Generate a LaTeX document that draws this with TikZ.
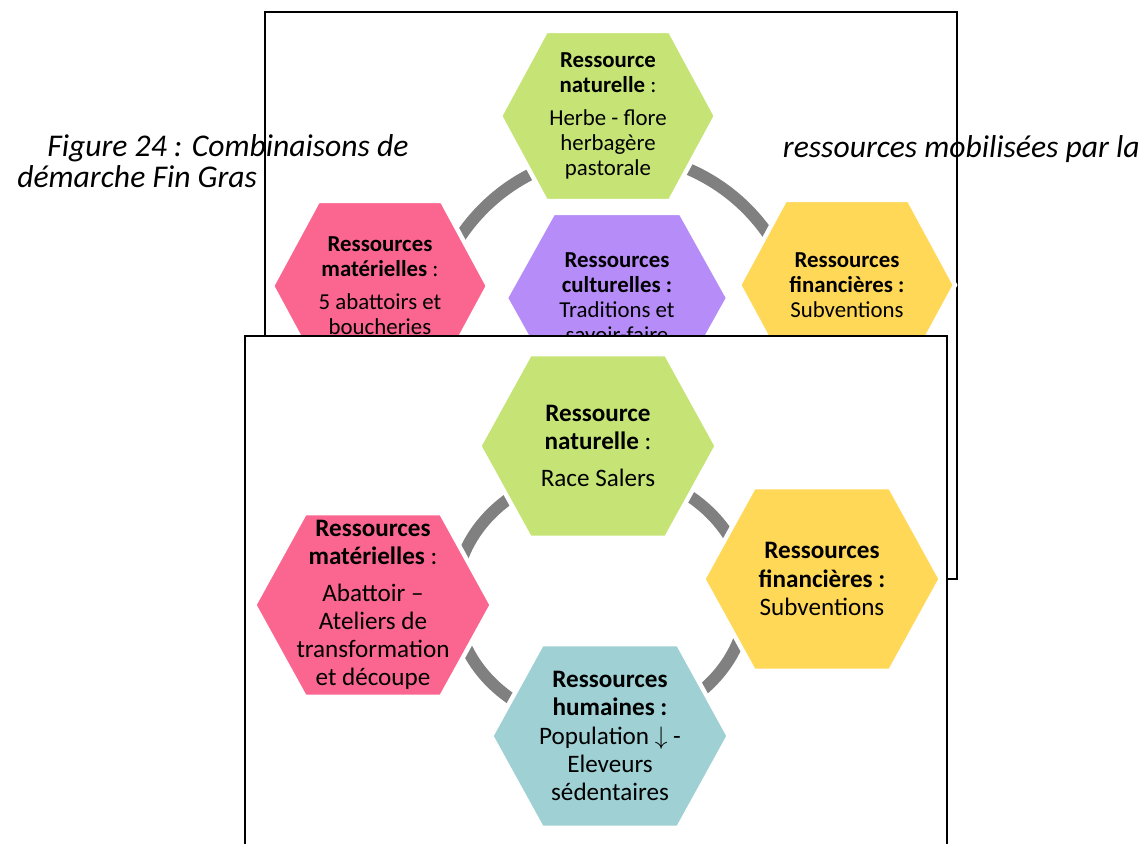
\documentclass[tikz,border=0pt]{standalone}
\usepackage{fontspec}
\setmainfont{Carlito}
\usepackage{tikz}
\usetikzlibrary{calc}

\definecolor{natgreen}{RGB}{197,228,117}
\definecolor{matpink}{RGB}{250,102,143}
\definecolor{culpurple}{RGB}{181,140,248}
\definecolor{finyellow}{RGB}{255,216,88}
\definecolor{humcyan}{RGB}{158,208,212}
\definecolor{ringgray}{RGB}{128,128,128}

% hexagon with its text: name, centre, colour, size, text
\newcommand{\hexcell}[5]{%
  \filldraw[fill=#3, draw=white, line width=2.5pt, shift={(#2)}, #4]
    (-108,0) -- (-62,-85) -- (62,-85) -- (108,0) -- (62,85) -- (-62,85) -- cycle;
  \node[celltext] (#1) at (#2) {#5};
}

\begin{document}
\begin{tikzpicture}[x=0.02cm, y=-0.02cm,
    celltext/.style={align=center, inner sep=0pt, text=black},
    frame/.style={draw=black, line width=1.1pt, fill=white},
    ring/.style={draw=ringgray, line width=6.8pt},
    caption/.style={inner sep=0pt, font=\fontsize{18}{21}\selectfont\itshape}]

    \useasboundingbox (0,0) rectangle (1147,843);

    % first figure
    \draw[frame] (265,12) rectangle (957,579);

    % ring behind the cells
    \coordinate (ringA) at (615,340);
    \draw[ring] (ringA) circle [radius=186];

    % the four cells of the first figure
    \begin{scope}[celltext/.append style={font=\fontsize{13}{14.2}\selectfont}]
    \hexcell{natA}{608,116}{natgreen}{}{\textbf{Ressource}\\\textbf{naturelle} :\\[4.5pt]Herbe - flore\\herbagère\\pastorale}
    \hexcell{matA}{380,286}{matpink}{}{\textbf{Ressources}\\\textbf{matérielles} :\\[4.5pt]5 abattoirs et\\boucheries}
    \hexcell{culA}{617,298}{culpurple}{xscale=1.03}{\textbf{Ressources}\\\textbf{culturelles :}\\Traditions et\\savoir-faire}
    \hexcell{finA}{847,285}{finyellow}{}{\textbf{Ressources}\\\textbf{financières :}\\Subventions}
    \end{scope}

    % second figure, lying over the first one
    \draw[frame] (245,336) rectangle (947,870);

    \coordinate (ringB) at (601,598);
    \draw[ring] (ringB) ellipse [x radius=146, y radius=128];

    \begin{scope}[celltext/.append style={font=\fontsize{14.3}{16}\selectfont}]
    \hexcell{natB}{598,446}{natgreen}{xscale=1.1, yscale=1.08}{\textbf{Ressource}\\\textbf{naturelle} :\\[5pt]Race Salers}
    \hexcell{finB}{822,579}{finyellow}{xscale=1.1, yscale=1.08}{\textbf{Ressources}\\\textbf{financières :}\\Subventions}
    \hexcell{matB}{373,605}{matpink}{xscale=1.1, yscale=1.08}{\textbf{Ressources}\\\textbf{matérielles} :\\[5pt]Abattoir --\\Ateliers de\\transformation\\et découpe}
    \hexcell{humB}{610,736}{humcyan}{xscale=1.1, yscale=1.08}{\textbf{Ressources}\\\textbf{humaines :}\\Population \smash{$\downarrow$} -\\Eleveurs\\sédentaires}
    \end{scope}

    % caption text
    \node[caption, anchor=base west] (capA) at (47,156) {Figure 24 : Combinaisons de};
    \node[caption, anchor=base east] (capB) at (1140,157) {ressources mobilisées par la};
    \node[caption, anchor=base west] (capC) at (17,187) {démarche Fin Gras};

\end{tikzpicture}
\end{document}
